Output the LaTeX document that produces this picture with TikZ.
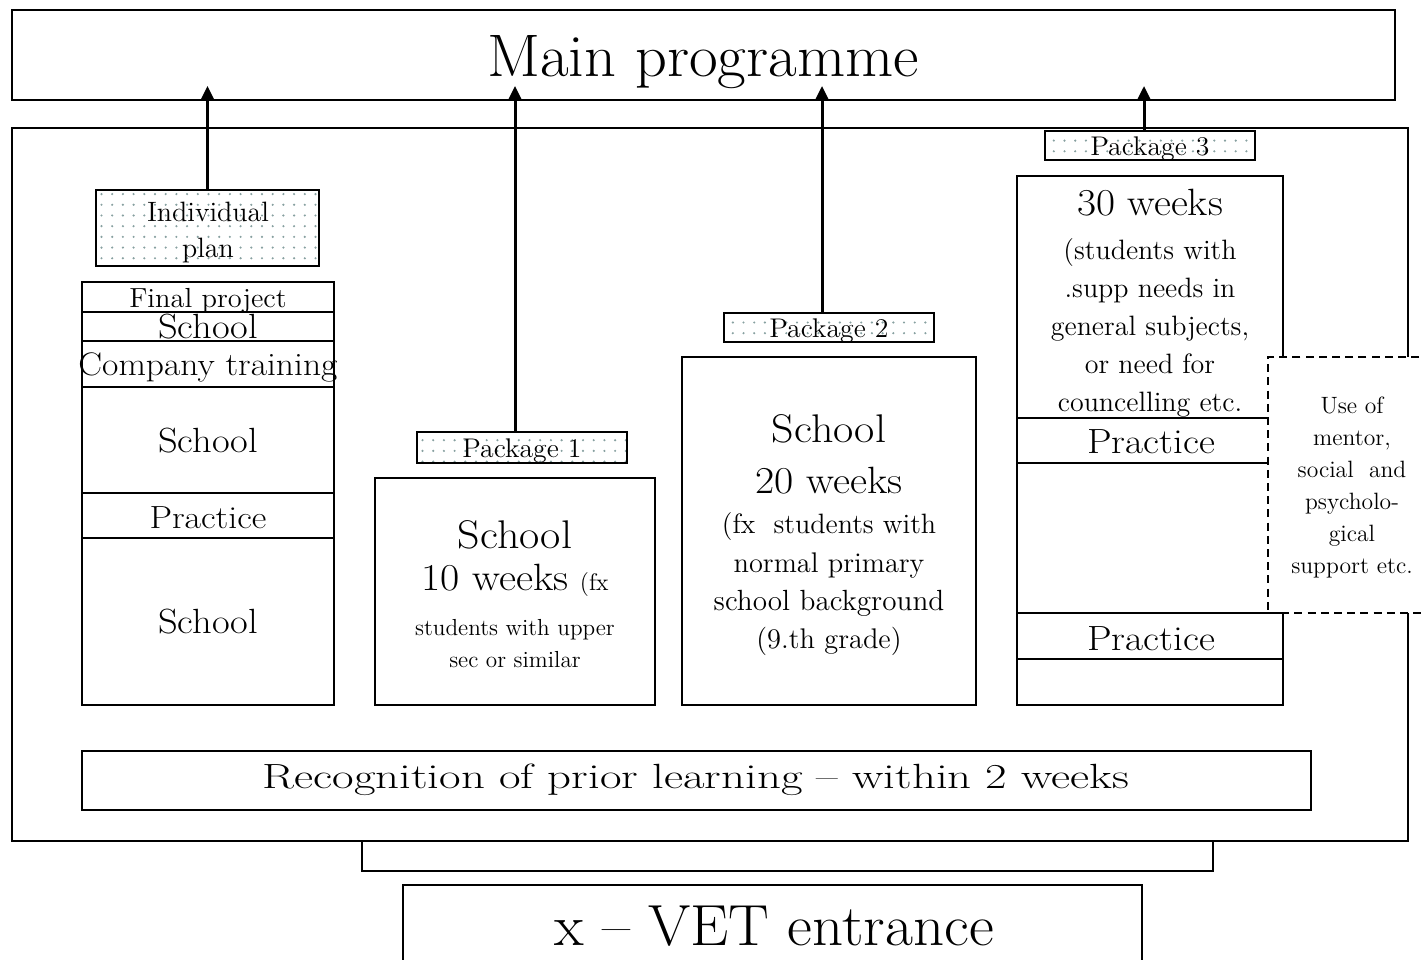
\documentclass[tikz,border=0pt]{standalone}
\usepackage{graphicx}
\usetikzlibrary{fit,patterns,arrows.meta}
\pgfdeclarepatternformonly{pdots}{\pgfpoint{-0.5pt}{-0.5pt}}{\pgfpoint{5.85pt}{5.85pt}}{\pgfpoint{5.35pt}{5.35pt}}{\pgfpathcircle{\pgfpoint{2.6pt}{2.6pt}}{0.6pt}\pgfusepath{fill}}
\definecolor{dotc}{RGB}{135,160,160}
\newcommand\fsz[1]{\fontsize{#1}{#1}\selectfont}
\newcommand\sx[2]{\scalebox{#1}[1]{#2}}
\begin{document}
\begin{tikzpicture}[x=0.5pt,y=-0.5pt,
  bx/.style={draw, line width=1pt, inner sep=0pt},
  dbx/.style={bx, pattern=pdots, pattern color=dotc},
  t/.style={anchor=base, inner sep=0pt, outer sep=0pt},
  arr/.style={line width=1.5pt, -{Triangle[length=7pt,width=6.5pt]}, shorten >=-7.5pt},
  dashbx/.style={draw, line width=1pt, dash pattern=on 4pt off 2.6pt, fill=white, inner sep=0pt}]
\useasboundingbox (0,0) rectangle (1424,959);

% frames
\node[bx, fit={(12,128) (1408,841)}] (outer) {};
\node[bx, fit={(12,10) (1395,100)}] (main) {};
\node[t, font=\fsz{30}] (maintxt) at (703,76) {\sx{1.04}{Main programme}};

% left column: individual plan
\node[dbx, fit={(96,190) (319,266)}] (indiv) {};
\node[t, font=\fsz{14}] (indiv1) at (208,221) {Individual};
\node[t, font=\fsz{14}] (indiv2) at (208,257) {plan};
\node[bx, fit={(82,282) (334,312)}] (r1) {};
\node[bx, fit={(82,312) (334,341)}] (r2) {};
\node[bx, fit={(82,341) (334,387)}] (r3) {};
\node[bx, fit={(82,387) (334,493)}] (r4) {};
\node[bx, fit={(82,493) (334,538)}] (r5) {};
\node[bx, fit={(82,538) (334,705)}] (r6) {};
\node[t, font=\fsz{13.8}] (r1t) at (208,307) {\sx{1.03}{Final project}};
\node[t, font=\fsz{17.5}] (r2t) at (208,338) {\sx{1.1}{School}};
\node[t, font=\fsz{16.3}] (r3t) at (208,375) {\sx{1.09}{Company training}};
\node[t, font=\fsz{17.5}] (r4t) at (208,452) {\sx{1.1}{School}};
\node[t, font=\fsz{16}] (r5t) at (208,528) {\sx{1.12}{Practice}};
\node[t, font=\fsz{17.5}] (r6t) at (208,633) {\sx{1.1}{School}};

% package 1
\node[dbx, fit={(417,432) (627,463)}] (p1lab) {};
\node[t, font=\fsz{13.5}] (p1labt) at (522,457) {\sx{1.03}{Package 1}};
\node[bx, fit={(375,478) (655,705)}] (p1) {};
\node[t, font=\fsz{20}] (p1a) at (515,548) {\sx{1.1}{School}};
\node[t, font=\fsz{19}] (p1b) at (515,590) {\sx{1.1}{10 weeks} {\fsz{12}(fx}};
\node[t, font=\fsz{11.6}] (p1c) at (515,635) {students with upper};
\node[t, font=\fsz{11.6}] (p1d) at (515,667) {sec or similar};

% package 2
\node[dbx, fit={(724,313) (934,342)}] (p2lab) {};
\node[t, font=\fsz{13.5}] (p2labt) at (829,337) {\sx{1.03}{Package 2}};
\node[bx, fit={(682,357) (976,705)}] (p2) {};
\node[t, font=\fsz{20}] (p2a) at (829,442) {\sx{1.1}{School}};
\node[t, font=\fsz{19}] (p2b) at (829,493) {\sx{1.1}{20 weeks}};
\node[t, font=\fsz{14}] (p2c) at (829,533) {(fx\ \ students with};
\node[t, font=\fsz{14.2}] (p2d) at (829,572) {normal primary};
\node[t, font=\fsz{14.6}] (p2e) at (829,610) {school background};
\node[t, font=\fsz{14.2}] (p2f) at (829,648) {(9.th grade)};

% package 3
\node[dbx, fit={(1045,131) (1255,160)}] (p3lab) {};
\node[t, font=\fsz{13.5}] (p3labt) at (1150,155) {\sx{1.03}{Package 3}};
\node[bx, fit={(1017,176) (1283,418)}] (q1) {};
\node[bx, fit={(1017,418) (1283,463)}] (q2) {};
\node[bx, fit={(1017,463) (1283,613)}] (q3) {};
\node[dashbx, fit={(1268,357) (1440,613)}] (support) {};
\node[bx, fit={(1017,613) (1283,659)}] (q4) {};
\node[bx, fit={(1017,659) (1283,705)}] (q5) {};
\node[t, font=\fsz{19}] (q1a) at (1150,215) {\sx{1.09}{30 weeks}};
\node[t, font=\fsz{14}] (q1b) at (1150,259) {(students with};
\node[t, font=\fsz{14}] (q1c) at (1150,297) {.supp needs in};
\node[t, font=\fsz{14}] (q1d) at (1150,335) {general subjects,};
\node[t, font=\fsz{14}] (q1e) at (1150,373) {or need for};
\node[t, font=\fsz{14}] (q1f) at (1150,411) {councelling etc.};
\node[t, font=\fsz{17.5}] (q2t) at (1151,453) {\sx{1.12}{Practice}};
\node[t, font=\fsz{17.5}] (q4t) at (1151,650) {\sx{1.12}{Practice}};
\node[t, font=\fsz{11.8}] (s1) at (1352,413) {Use of};
\node[t, font=\fsz{11.8}] (s2) at (1352,445) {mentor,};
\node[t, font=\fsz{11.8}] (s3) at (1352,477) {social\ \ and};
\node[t, font=\fsz{11.8}] (s4) at (1352,509) {psycholo-};
\node[t, font=\fsz{11.8}] (s5) at (1352,541) {gical};
\node[t, font=\fsz{11.8}] (s6) at (1352,573) {support etc.};

% recognition
\node[bx, fit={(82,751) (1311,810)}] (rpl) {};
\node[t, font=\fsz{17.5}] (rplt) at (696,788) {\sx{1.34}{Recognition of prior learning -- within 2 weeks}};

% entrance
\node[bx, fit={(362,841) (1213,871)}] (bracket) {};
\node[bx, fit={(403,885) (1142,975)}] (vet) {};
\node[t, font=\fsz{29}] (vett) at (774,945) {\sx{1.05}{x -- VET entrance}};

% arrows
\draw[arr] (indiv.north) -- (indiv.north |- main.south);
\draw[arr] ([xshift=-3.5pt]p1lab.north) -- ([xshift=-3.5pt]p1lab.north |- main.south);
\draw[arr] ([xshift=-3.5pt]p2lab.north) -- ([xshift=-3.5pt]p2lab.north |- main.south);
\draw[arr] ([xshift=-3pt]p3lab.north) -- ([xshift=-3pt]p3lab.north |- main.south);
\end{tikzpicture}
\end{document}
